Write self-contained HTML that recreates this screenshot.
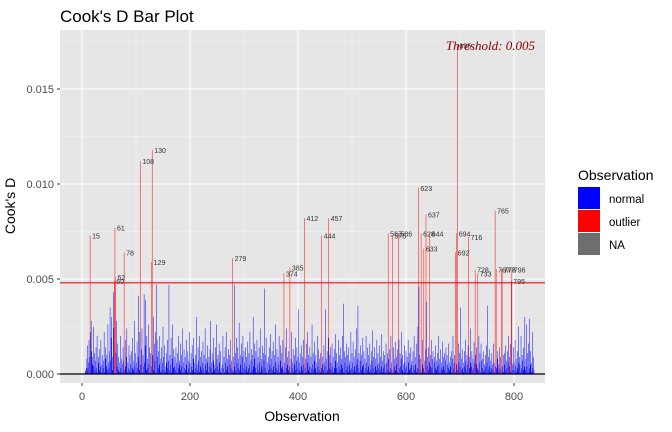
<!DOCTYPE html>
<html><head><meta charset="utf-8"><style>
html,body{margin:0;padding:0;background:#fff;}
svg{display:block;font-family:"Liberation Sans",sans-serif;}
</style></head><body>
<svg id="chart" width="672" height="432" xmlns="http://www.w3.org/2000/svg">
<text x="60" y="22" font-size="17" fill="#000">Cook's D Bar Plot</text>
<rect x="60" y="30" width="485" height="353" fill="#e6e6e6"/>
<g id="grid"></g>
<g id="bars"></g>
<g id="labels"></g>
<g id="axes"></g>
<text x="15" y="206" font-size="14" text-anchor="middle" transform="rotate(-90 15 206)">Cook's D</text>
<text x="302" y="421" font-size="14" text-anchor="middle">Observation</text>
<g>
<text x="578" y="180" font-size="14">Observation</text>
<rect x="578" y="187" width="22" height="22" fill="#0000ff"/>
<text x="609" y="203" font-size="11.5">normal</text>
<rect x="578" y="210" width="22" height="22" fill="#ff0000"/>
<text x="609" y="226" font-size="11.5">outlier</text>
<rect x="578" y="233" width="22" height="22" fill="#6e6e6e"/>
<text x="609" y="249" font-size="11.5">NA</text>
</g>
</svg>
<script>
// Cook's D for normal observations, in units of 0.0001; observation = index+1
const normalVals = [
0,0,0,0,0,1,2,3,8,15, 3,6,18,9,0,22,28,12,5,9, 25,4,11,2,7,14,3,20,1,6, 9,2,13,4,18,1,5,10,3,7,
22,1,8,14,4,10,2,26,6,3, 12,35,7,19,30,2,9,43,24,0, 0,0,11,28,4,16,2,9,1,6, 20,3,8,1,5,14,7,0,2,18,
4,9,24,1,6,3,15,2,10,5, 1,12,3,19,2,7,28,4,11,1, 6,17,3,9,41,2,22,0,5,13, 24,1,10,4,42,6,15,39,2,20,
8,3,26,5,14,1,11,4,0,0, 10,30,2,16,7,22,1,47,18,9, 3,12,5,20,1,8,14,2,6,25, 9,2,15,4,1,11,6,18,3,7,
47,2,10,5,19,1,8,26,3,13, 4,9,2,14,6,1,11,3,20,5, 7,16,2,10,4,24,1,6,13,3, 9,2,18,5,1,12,7,3,22,6,
1,11,4,15,2,8,19,1,6,10, 3,30,5,2,14,7,1,20,4,9, 12,2,6,17,3,10,1,24,5,8, 2,15,6,1,9,4,13,28,3,6,
11,1,7,19,2,5,14,3,26,8, 4,10,2,16,6,1,12,3,0,5, 20,3,9,1,14,6,22,2,8,4, 13,1,10,5,18,3,7,2,25,9,
1,47,4,11,2,19,6,14,3,8, 27,2,10,5,16,1,9,20,3,12, 6,2,14,4,9,1,17,3,11,5, 22,1,7,13,2,10,30,4,8,16,
3,12,1,18,5,9,2,14,6,24, 1,8,4,15,2,11,7,45,3,10, 19,1,6,0,9,2,14,5,21,3, 8,12,2,17,4,10,1,26,6,3,
13,2,9,5,20,1,7,15,3,11, 4,18,2,10,6,1,14,3,24,5, 9,2,12,4,16,1,8,22,3,6, 13,1,10,5,19,2,7,14,3,9,
34,2,6,11,1,15,4,9,2,18, 5,12,3,8,1,16,6,22,2,10, 4,14,1,9,3,26,5,11,2,7, 17,3,10,1,6,20,4,13,2,8,
1,11,3,24,5,9,2,15,6,4, 34,1,8,12,2,19,5,10,3,14, 6,2,16,4,9,1,13,3,21,7, 11,3,6,1,18,4,10,2,14,5,
8,20,3,37,1,12,6,9,2,16, 4,10,1,14,5,7,2,22,3,11, 6,17,2,9,4,13,1,24,5,8, 36,3,11,1,7,15,2,10,4,19,
5,12,1,8,3,20,6,2,14,4, 10,1,16,5,2,12,7,23,3,9, 1,14,4,8,2,18,5,11,3,6, 15,2,9,4,21,1,7,12,3,10,
5,1,16,6,2,11,4,8,1,13, 3,20,6,2,10,1,14,4,8,17, 2,9,5,13,1,7,18,3,11,4, 8,22,2,10,5,1,15,6,3,12,
4,9,1,18,6,2,11,3,14,5, 7,1,12,4,20,2,9,5,1,16, 3,25,6,46,10,2,8,14,1,18, 5,3,11,1,7,13,2,38,4,9,
2,14,6,1,10,4,18,3,8,12, 1,6,9,3,15,2,7,11,4,20, 5,8,1,13,3,6,2,17,9,4, 11,2,7,14,1,10,5,3,16,6,
2,9,4,12,1,8,20,3,6,10, 1,14,5,3,9,2,16,6,11,4, 35,2,8,13,3,6,1,12,4,18, 7,2,10,5,15,1,9,3,24,6,
4,12,2,8,3,17,6,1,10,5, 14,3,9,2,20,6,11,1,16,7, 3,8,1,12,5,2,10,4,15,6, 36,2,9,4,13,1,7,3,11,5,
2,16,6,1,10,4,18,3,8,12, 5,1,14,3,9,2,22,6,4,10, 1,11,5,15,2,7,3,12,6,20, 4,9,1,16,3,10,5,2,14,6,
2,18,4,8,1,12,3,25,6,9, 5,1,20,3,10,7,2,14,4,30, 2,8,26,4,11,1,16,3,29,5, 12,1,6,22,3,9,2,0,0,0
];
// Outlier observations and their Cook's D (units of 0.001)
const outlierObs  = [15,60,61,62,78,108,129,130,279,374,385,412,444,457,567,575,586,623,628,633,637,644,692,694,695,716,728,733,765,767,777,778,795,796];
const outlierVals = [7.3,4.9,7.7,5.1,6.4,11.2,5.9,11.8,6.1,5.3,5.6,8.2,7.3,8.2,7.4,7.3,7.4,9.8,7.4,6.6,8.4,7.4,6.4,7.4,17.3,7.2,5.5,5.3,8.6,5.5,5.5,5.5,4.9,5.5];
const threshold = 4.8;        // units of 0.001 (line position)
const yTicks = [0, 5, 10, 15];
const yTickLabels = ["0.000","0.005","0.010","0.015"];
const xTicks = [0, 200, 400, 600, 800];
const xTickLabels = ["0","200","400","600","800"];

const NS = "http://www.w3.org/2000/svg";
const X0 = 82, XS = 0.54;
const Y0 = 374, YS = 19;
function xScale(v){ return X0 + v*XS; }
function yScale(v){ return Y0 - v*YS; }
function mk(tag, attrs, parent){
  const e = document.createElementNS(NS, tag);
  for (const k in attrs) e.setAttribute(k, attrs[k]);
  parent.appendChild(e); return e;
}
const grid = document.getElementById('grid');
const bars = document.getElementById('bars');
const labels = document.getElementById('labels');
const axes = document.getElementById('axes');

for (let i=0;i<yTicks.length;i++){
  const yv = yTicks[i];
  if (i < yTicks.length-1){
    const m = mk('line',{x1:60,x2:545,y1:yScale(yv+2.5),y2:yScale(yv+2.5),stroke:'#f2f2f2','stroke-width':0.6},grid);
    
    
  }
  const g = mk('line',{x1:60,x2:545,y1:yScale(yv),y2:yScale(yv),stroke:'#fff','stroke-width':1.1},grid);
  
  
  const tk = mk('line',{x1:57,x2:60,y1:yScale(yv),y2:yScale(yv),stroke:'#333','stroke-width':1},axes);
  
  
  const t = mk('text',{x:54,y:yScale(yv)+4,'font-size':11,'text-anchor':'end',fill:'#4d4d4d'},axes);
  t.textContent = yTickLabels[i];
  
  
}
const topMinor = mk('line',{x1:60,x2:545,y1:yScale(17.5),y2:yScale(17.5),stroke:'#f2f2f2','stroke-width':0.6},grid);


for (let i=0;i<xTicks.length;i++){
  const xv = xTicks[i];
  if (i < xTicks.length-1){
    const m = mk('line',{x1:xScale(xv+100),x2:xScale(xv+100),y1:30,y2:383,stroke:'#f2f2f2','stroke-width':0.6},grid);
    
    
  }
  const g = mk('line',{x1:xScale(xv),x2:xScale(xv),y1:30,y2:383,stroke:'#fff','stroke-width':1.1},grid);
  
  
  const tk = mk('line',{x1:xScale(xv),x2:xScale(xv),y1:383,y2:386,stroke:'#333','stroke-width':1},axes);
  
  
  const t = mk('text',{x:xScale(xv),y:400,'font-size':11,'text-anchor':'middle',fill:'#4d4d4d'},axes);
  t.textContent = xTickLabels[i];
  
  
}

// combine
const values = normalVals.map(v => v/10);
for (let k=0;k<outlierObs.length;k++) values[outlierObs[k]-1] = outlierVals[k];

for (let i=0;i<values.length;i++){
  const obs = i+1, v = values[i];
  const out = v > threshold;
  const b = mk('rect',{x:xScale(obs)-0.243,y:yScale(v),width:0.486,height:Math.max(0,Y0-yScale(v)),fill: out?'#ff0000':'#0000ff'},bars);
  
  
  if (out){
    const t = mk('text',{x:xScale(obs)+2,y:yScale(v)+3,'font-size':7,fill:'#333'},labels);
    t.textContent = String(obs);
    
    
  }
}
const zl = mk('line',{x1:60,x2:545,y1:Y0,y2:Y0,stroke:'#000','stroke-width':1.2},axes);


const th = mk('line',{x1:60,x2:545,y1:yScale(threshold),y2:yScale(threshold),stroke:'#e0141e','stroke-width':1.2},axes);


const tt = mk('text',{x:535,y:50,'font-size':13,'text-anchor':'end',fill:'#8b0000','font-style':'italic','font-family':'"Liberation Serif",serif'},axes);
tt.textContent = 'Threshold: 0.005';


</script>
</body></html>
